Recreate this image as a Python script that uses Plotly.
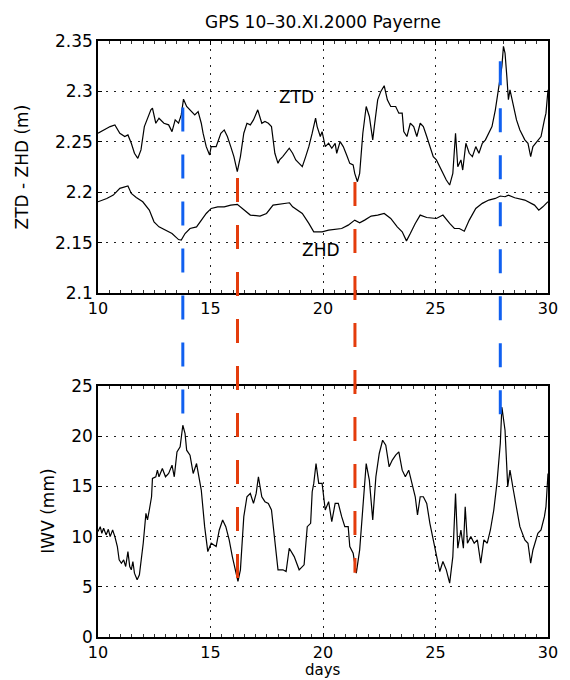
import plotly.graph_objects as go

# ---------------- data ----------------
ztd_days = [10.00, 10.25, 10.54, 10.75, 10.97, 11.19, 11.33, 11.48, 11.62, 11.77, 11.91, 12.06, 12.20, 12.35,
            12.42, 12.57, 12.71, 12.93, 13.14, 13.29, 13.43, 13.58, 13.70, 13.80, 13.94, 14.16, 14.30, 14.45,
            14.59, 14.67, 14.81, 14.96, 15.03, 15.25, 15.46, 15.61, 15.75, 15.90, 16.04, 16.19, 16.33, 16.48,
            16.62, 16.77, 16.91, 17.10, 17.28, 17.42, 17.57, 17.71, 17.86, 18.00, 18.07, 18.21, 18.50, 18.65,
            18.79, 18.94, 19.08, 19.23, 19.37, 19.52, 19.67, 19.74, 19.88, 19.96, 20.10, 20.25, 20.39, 20.54,
            20.61, 20.76, 20.90, 21.05, 21.19, 21.34, 21.41, 21.53, 21.63, 21.77, 21.92, 22.06, 22.21, 22.28,
            22.43, 22.57, 22.72, 22.86, 23.01, 23.23, 23.37, 23.52, 23.59, 23.73, 23.88, 24.03, 24.17, 24.32,
            24.46, 24.61, 24.75, 24.90, 25.04, 25.19, 25.33, 25.48, 25.63, 25.77, 25.89, 25.99, 26.13, 26.21,
            26.35, 26.50, 26.64, 26.79, 26.93, 27.08, 27.22, 27.37, 27.51, 27.66, 27.80, 27.95, 28.02, 28.09,
            28.17, 28.24, 28.31, 28.46, 28.60, 28.75, 28.97, 29.11, 29.23, 29.33, 29.55, 29.69, 29.84, 29.91,
            30.00]
ztd_vals = [2.2585, 2.2618, 2.2651, 2.2668, 2.2585, 2.2552, 2.2568, 2.2485, 2.2386, 2.2336, 2.2419, 2.2651,
            2.2734, 2.2817, 2.2834, 2.2684, 2.2734, 2.2684, 2.2668, 2.2601, 2.2717, 2.2684, 2.2767, 2.2923,
            2.2850, 2.2800, 2.2767, 2.2800, 2.2684, 2.2585, 2.2452, 2.2369, 2.2452, 2.2452, 2.2585, 2.2618,
            2.2552, 2.2452, 2.2353, 2.2204, 2.2353, 2.2585, 2.2684, 2.2668, 2.2717, 2.2817, 2.2684, 2.2701,
            2.2684, 2.2651, 2.2386, 2.2286, 2.2320, 2.2353, 2.2436, 2.2386, 2.2320, 2.2286, 2.2253, 2.2353,
            2.2452, 2.2585, 2.2734, 2.2651, 2.2552, 2.2601, 2.2452, 2.2485, 2.2436, 2.2485, 2.2386, 2.2502,
            2.2452, 2.2369, 2.2286, 2.2270, 2.2187, 2.2104, 2.2187, 2.2585, 2.2850, 2.2751, 2.2519, 2.2651,
            2.2916, 2.3000, 2.3056, 2.2916, 2.2850, 2.2850, 2.2784, 2.2784, 2.2601, 2.2552, 2.2684, 2.2651,
            2.2552, 2.2684, 2.2651, 2.2552, 2.2452, 2.2353, 2.2320, 2.2253, 2.2187, 2.2121, 2.2071, 2.2187,
            2.2585, 2.2253, 2.2320, 2.2220, 2.2485, 2.2386, 2.2353, 2.2452, 2.2386, 2.2485, 2.2519, 2.2585,
            2.2651, 2.2817, 2.3050, 2.3248, 2.3447, 2.3381, 2.3149, 2.2917, 2.3016, 2.2850, 2.2717, 2.2618,
            2.2519, 2.2485, 2.2353, 2.2452, 2.2519, 2.2552, 2.2717, 2.2784, 2.3016]

zhd_days = [10.00, 10.39, 10.68, 10.97, 11.33, 11.48, 11.70, 11.99, 12.28, 12.49, 12.71, 13.00, 13.29, 13.58,
            13.70, 13.87, 14.09, 14.38, 14.59, 14.81, 15.03, 15.32, 15.61, 15.90, 16.19, 16.48, 16.77, 17.20,
            17.49, 17.78, 18.22, 18.51, 18.65, 19.08, 19.37, 19.59, 19.96, 20.25, 20.83, 21.12, 21.41, 21.63,
            21.85, 22.14, 22.43, 22.72, 23.01, 23.30, 23.52, 23.71, 23.88, 24.10, 24.32, 24.61, 25.04, 25.33,
            25.63, 25.84, 26.06, 26.28, 26.50, 26.79, 27.08, 27.37, 27.66, 27.88, 28.09, 28.24, 28.52, 28.97,
            29.40, 29.59, 29.77, 30.00]
zhd_vals = [2.1905, 2.1938, 2.1971, 2.2038, 2.2061, 2.1988, 2.1948, 2.1905, 2.1822, 2.1706, 2.1656, 2.1623,
            2.1590, 2.1530, 2.1524, 2.1590, 2.1640, 2.1656, 2.1723, 2.1789, 2.1839, 2.1855, 2.1855, 2.1872,
            2.1879, 2.1822, 2.1773, 2.1763, 2.1789, 2.1872, 2.1889, 2.1895, 2.1855, 2.1789, 2.1690, 2.1607,
            2.1607, 2.1623, 2.1640, 2.1673, 2.1723, 2.1696, 2.1723, 2.1763, 2.1773, 2.1789, 2.1739, 2.1656,
            2.1607, 2.1517, 2.1590, 2.1690, 2.1773, 2.1749, 2.1739, 2.1773, 2.1690, 2.1640, 2.1640, 2.1613,
            2.1723, 2.1839, 2.1889, 2.1922, 2.1938, 2.1962, 2.1955, 2.1971, 2.1945, 2.1922, 2.1872, 2.1822,
            2.1855, 2.1905]

iwv_days = [10.00, 10.10, 10.17, 10.25, 10.36, 10.46, 10.54, 10.65, 10.75, 10.86, 10.94, 11.04, 11.14, 11.23,
            11.33, 11.41, 11.48, 11.55, 11.62, 11.74, 11.84, 11.91, 12.01, 12.13, 12.20, 12.28, 12.38, 12.42,
            12.57, 12.64, 12.71, 12.86, 13.00, 13.14, 13.29, 13.39, 13.51, 13.65, 13.77, 13.87, 13.94, 14.09,
            14.23, 14.38, 14.45, 14.59, 14.74, 14.88, 15.03, 15.25, 15.39, 15.54, 15.68, 15.83, 15.97, 16.12,
            16.22, 16.33, 16.48, 16.62, 16.77, 16.91, 17.03, 17.13, 17.28, 17.42, 17.57, 17.71, 17.86, 18.00,
            18.22, 18.36, 18.50, 18.72, 18.94, 19.16, 19.30, 19.45, 19.52, 19.59, 19.69, 19.81, 19.96, 20.10,
            20.25, 20.39, 20.54, 20.68, 20.83, 20.97, 21.12, 21.19, 21.34, 21.48, 21.63, 21.77, 21.92, 22.06,
            22.21, 22.35, 22.50, 22.65, 22.79, 22.94, 23.08, 23.23, 23.37, 23.52, 23.66, 23.81, 23.95, 24.10,
            24.20, 24.32, 24.46, 24.61, 24.75, 24.90, 25.04, 25.19, 25.33, 25.48, 25.63, 25.77, 25.89, 25.99,
            26.13, 26.24, 26.32, 26.42, 26.57, 26.72, 26.86, 27.01, 27.15, 27.30, 27.44, 27.59, 27.73, 27.88,
            27.95, 28.09, 28.21, 28.31, 28.46, 28.60, 28.75, 28.97, 29.11, 29.23, 29.33, 29.55, 29.69, 29.84,
            29.91, 30.00]
iwv_vals = [10.50, 10.99, 10.33, 10.83, 10.17, 10.73, 10.00, 10.66, 10.00, 9.01, 7.68, 7.35, 7.68, 7.02,
            8.51, 7.02, 6.69, 7.52, 6.36, 5.70, 6.19, 7.35, 9.34, 12.32, 11.66, 12.65, 13.97, 15.79,
            15.96, 16.62, 15.96, 16.79, 15.96, 16.29, 17.12, 15.96, 18.44, 18.94, 21.09, 20.26, 18.61, 18.11,
            16.29, 17.28, 16.46, 14.64, 10.99, 8.51, 9.34, 9.01, 10.66, 11.66, 10.99, 9.67, 8.01, 6.69,
            5.54, 6.69, 11.99, 13.97, 14.30, 13.31, 14.30, 15.96, 13.97, 13.48, 13.31, 12.65, 9.34, 6.69,
            6.69, 6.52, 8.84, 8.01, 6.69, 7.19, 10.99, 11.32, 14.47, 15.30, 17.28, 15.30, 15.30, 12.65,
            13.48, 11.49, 13.31, 13.31, 11.99, 10.99, 10.99, 9.01, 8.34, 6.36, 8.68, 13.31, 17.28, 15.63,
            11.66, 15.96, 18.28, 19.60, 19.11, 16.95, 17.62, 18.11, 18.44, 16.62, 15.96, 16.62, 15.30, 13.97,
            12.15, 13.97, 13.97, 13.31, 11.32, 9.67, 8.34, 6.52, 7.52, 6.69, 5.36, 8.01, 14.30, 8.84,
            10.66, 8.84, 12.98, 9.34, 10.00, 9.34, 9.67, 7.35, 9.67, 9.34, 10.66, 12.65, 15.30, 19.27,
            22.91, 20.60, 14.97, 16.62, 14.64, 12.65, 10.99, 9.67, 9.34, 7.35, 8.67, 10.33, 10.66, 11.99,
            12.98, 16.29]

# event markers: day, top-panel start value, bottom-panel end value, colour
event_days = [13.77, 16.20, 21.42, 27.88]
event_top = [2.284, 2.214, 2.210, 2.330]
event_bottom = [21.9, 5.5, 6.4, 21.9]
event_colors = ["#1060f0", "#e43c0c", "#e43c0c", "#1060f0"]

x_range = [10, 30]
top_range = [2.1, 2.35]
bottom_range = [0, 25]
top_domain = [0.5772, 1.0]
bottom_domain = [0.0, 0.4211]

FONT = "DejaVu Sans"
FS = 17
FSX = 16

fig = go.Figure()
fig.add_trace(go.Scatter(x=ztd_days, y=ztd_vals, mode="lines", line=dict(color="black", width=1.2),
                         xaxis="x", yaxis="y", showlegend=False))
fig.add_trace(go.Scatter(x=zhd_days, y=zhd_vals, mode="lines", line=dict(color="black", width=1.2),
                         xaxis="x", yaxis="y", showlegend=False))
fig.add_trace(go.Scatter(x=iwv_days, y=iwv_vals, mode="lines", line=dict(color="black", width=1.2),
                         xaxis="x2", yaxis="y2", showlegend=False))


def to_paper(v, rng, dom):
    return dom[0] + (v - rng[0]) / (rng[1] - rng[0]) * (dom[1] - dom[0])


for d, t, b, c in zip(event_days, event_top, event_bottom, event_colors):
    fig.add_shape(type="line", xref="x", yref="paper", x0=d, x1=d,
                  y0=to_paper(t, top_range, top_domain), y1=to_paper(b, bottom_range, bottom_domain),
                  line=dict(color=c, width=3, dash="24px,23px"), layer="above")

axis_common = dict(
    showline=True, linecolor="black", linewidth=1.6, mirror="ticks",
    ticks="inside", ticklen=4, tickcolor="black", tickwidth=1,
    showgrid=True, gridcolor="#222", gridwidth=1, griddash="1.5px,6.5px",
    zeroline=False,
)
yfont = dict(family=FONT, size=FS, color="black")
xfont = dict(family=FONT, size=FSX, color="black")
minor_x = dict(ticks="inside", dtick=0.5, ticklen=3, tickcolor="#333", showgrid=False)

fig.update_layout(
    width=570, height=680,
    margin=dict(l=98, r=13, t=41, b=43),
    paper_bgcolor="white", plot_bgcolor="white",
    font=dict(family=FONT, size=FS, color="black"),
    xaxis=dict(domain=[0, 1], anchor="y", range=x_range, tick0=10, dtick=5, minor=minor_x,
               tickfont=xfont, **axis_common),
    yaxis=dict(domain=top_domain, anchor="x", range=top_range, tick0=2.1, dtick=0.05,
               tickfont=yfont, **axis_common),
    xaxis2=dict(domain=[0, 1], anchor="y2", range=x_range, tick0=10, dtick=5, minor=minor_x,
                tickfont=xfont, **axis_common),
    yaxis2=dict(domain=bottom_domain, anchor="x2", range=bottom_range, tick0=0, dtick=5,
                tickfont=yfont, **axis_common),
)

annots = [
    dict(text="GPS 10–30.XI.2000 Payerne", xref="paper", yref="paper", x=0.5, y=1.032,
         xanchor="center", yanchor="middle", showarrow=False, font=dict(family=FONT, size=FS)),
    dict(text="ZTD - ZHD (m)", xref="paper", yref="paper", x=-0.17, y=(top_domain[0] + top_domain[1]) / 2,
         xanchor="center", yanchor="middle", textangle=-90, showarrow=False, font=dict(family=FONT, size=FS)),
    dict(text="IWV (mm)", xref="paper", yref="paper", x=-0.113, y=(bottom_domain[0] + bottom_domain[1]) / 2,
         xanchor="center", yanchor="middle", textangle=-90, showarrow=False, font=dict(family=FONT, size=FS)),
    dict(text="days", xref="paper", yref="paper", x=0.5, y=-0.0721, borderpad=0,
         xanchor="center", yanchor="bottom", showarrow=False, font=dict(family=FONT, size=15)),
    dict(text="ZTD", xref="x", yref="y", x=18.8, y=2.294, xanchor="center", yanchor="middle",
         showarrow=False, font=dict(family=FONT, size=FS)),
    dict(text="ZHD", xref="x", yref="y", x=19.9, y=2.143, xanchor="center", yanchor="middle",
         showarrow=False, font=dict(family=FONT, size=FS)),
]
fig.update_layout(annotations=annots)

# remove the browser's default 8px body margin so the figure sits at the page origin
fig.write_html("out.html", config={"displayModeBar": False},
               post_script="document.body.style.margin='0px';")
